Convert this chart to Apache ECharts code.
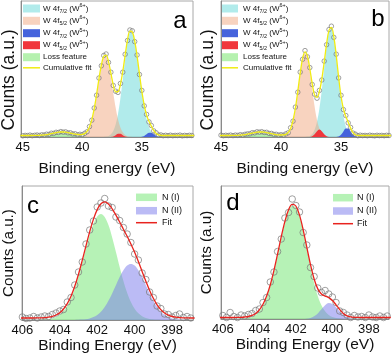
<!DOCTYPE html>
<html>
<head>
<meta charset="utf-8">
<script src="https://cdn.jsdelivr.net/npm/echarts@6/dist/echarts.min.js"></script>
<style>
  html, body { margin: 0; padding: 0; background: #fff; }
  #chart { width: 392px; height: 362px; }
</style>
</head>
<body>
<div id="chart"></div>
<script>
var FONT = 'Arial, "Liberation Sans", Helvetica, sans-serif';

// ---- W 4f panels (a, b): shared energy grid, eV ----
var energyW = [45.2, 45.0, 44.8, 44.6, 44.4, 44.2, 44.0, 43.8, 43.6, 43.4,
  43.2, 43.0, 42.8, 42.6, 42.4, 42.2, 42.0, 41.8, 41.6, 41.4,
  41.2, 41.0, 40.8, 40.6, 40.4, 40.2, 40.0, 39.8, 39.6, 39.4,
  39.2, 39.0, 38.8, 38.6, 38.4, 38.2, 38.0, 37.8, 37.6, 37.4,
  37.2, 37.0, 36.8, 36.6, 36.4, 36.2, 36.0, 35.8, 35.6, 35.4,
  35.2, 35.0, 34.8, 34.6, 34.4, 34.2, 34.0, 33.8, 33.6, 33.4,
  33.2, 33.0, 32.8, 32.6, 32.4, 32.2, 32.0, 31.8, 31.6, 31.4,
  31.2, 31.0, 30.8, 30.6];

// panel a: measured counts and cumulative fit
var aMeasured = [1.8, 1.2, 1.6, 1.4, 1.9, 1.3, 1.7, 2.0, 1.5, 2.2,
  2.0, 2.8, 2.6, 3.8, 3.6, 4.7, 4.5, 5.4, 4.8, 5.1,
  4.1, 4.2, 3.1, 3.2, 2.2, 2.7, 2.3, 3.7, 5.2, 10.4,
  16.8, 29.0, 41.8, 59.0, 71.2, 81.5, 83.0, 74.6, 64.8, 51.5,
  45.8, 44.6, 53.5, 64.8, 82.7, 96.5, 107.0, 106.2, 95.4, 82.0,
  62.5, 46.6, 31.1, 22.6, 15.1, 11.5, 6.1, 4.2, 1.9, 2.1,
  1.3, 1.7, 1.4, 1.8, 1.3, 1.6, 1.5, 1.9, 1.2, 1.6,
  1.4, 1.7, 1.5, 1.6];
var aFit = [1.5, 1.5, 1.5, 1.5, 1.5, 1.5, 1.6, 1.6, 1.7, 1.9,
  2.1, 2.4, 2.9, 3.4, 3.9, 4.4, 4.8, 5.0, 5.0, 4.8,
  4.4, 3.9, 3.4, 2.9, 2.5, 2.4, 2.6, 3.4, 5.6, 9.9,
  17.3, 28.3, 42.5, 58.2, 72.0, 80.6, 81.8, 75.3, 63.9, 52.2,
  45.1, 45.3, 52.7, 65.5, 81.9, 97.2, 105.9, 105.1, 96.1, 81.2,
  63.3, 45.9, 31.8, 21.9, 15.7, 10.9, 6.6, 3.7, 2.2, 1.7,
  1.5, 1.5, 1.5, 1.5, 1.5, 1.5, 1.5, 1.5, 1.5, 1.5,
  1.5, 1.5, 1.5, 1.5];
// panel a: fitted components [eV, counts]
var aW6f72 = [[38.4, 0], [38.2, 0.1], [38.0, 0.4], [37.8, 1.1], [37.6, 2.7], [37.4, 6.1], [37.2, 12.5],
  [37.0, 23.0], [36.8, 38.4], [36.6, 57.6], [36.4, 77.8], [36.2, 94.8], [36.0, 104.1], [35.8, 103.5],
  [35.6, 94.6], [35.4, 79.7], [35.2, 61.8], [35.0, 44.3], [34.8, 29.2], [34.6, 17.7], [34.4, 9.9],
  [34.2, 5.1], [34.0, 2.4], [33.8, 1.1], [33.6, 0.4], [33.4, 0.2], [33.2, 0]];
var aW6f52 = [[40.6, 0], [40.4, 0.1], [40.2, 0.3], [40.0, 0.7], [39.8, 1.7], [39.6, 4.0], [39.4, 8.3],
  [39.2, 15.8], [39.0, 26.8], [38.8, 41.0], [38.6, 56.7], [38.4, 70.5], [38.2, 79.0], [38.0, 79.9],
  [37.8, 72.7], [37.6, 59.7], [37.4, 44.1], [37.2, 29.4], [37.0, 17.6], [36.8, 9.6], [36.6, 4.7],
  [36.4, 2.1], [36.2, 0.8], [36.0, 0.3], [35.8, 0.1], [35.6, 0]];
var aW5f72 = [[35.2, 0], [35.0, 0.3], [34.8, 1.1], [34.6, 2.7], [34.4, 4.3], [34.2, 4.3], [34.0, 2.7],
  [33.8, 1.1], [33.6, 0.3], [33.4, 0]];
var aW5f52 = [[37.6, 0], [37.4, 0.5], [37.2, 1.7], [37.0, 3.2], [36.8, 3.2], [36.6, 1.7], [36.4, 0.5],
  [36.2, 0.1], [36.0, 0]];
var lossFeature = [[44.2, 0], [44.0, 0.1], [43.8, 0.1], [43.6, 0.2], [43.4, 0.4], [43.2, 0.6], [43.0, 0.9],
  [42.8, 1.4], [42.6, 1.9], [42.4, 2.4], [42.2, 2.9], [42.0, 3.3], [41.8, 3.5], [41.6, 3.5], [41.4, 3.3],
  [41.2, 2.9], [41.0, 2.4], [40.8, 1.9], [40.6, 1.4], [40.4, 0.9], [40.2, 0.6], [40.0, 0.4], [39.8, 0.2],
  [39.6, 0.1], [39.4, 0]];

// panel b
var bMeasured = [1.4, 1.8, 1.3, 1.7, 1.5, 1.9, 1.4, 1.9, 1.6, 2.3,
  1.9, 2.7, 3.1, 3.2, 4.3, 4.1, 5.2, 4.8, 5.3, 4.5,
  4.7, 3.6, 3.6, 2.6, 2.7, 1.9, 2.3, 1.8, 3.1, 4.2,
  9.3, 15.8, 29.9, 44.8, 64.9, 77.7, 86.4, 80.2, 69.4, 52.5,
  42.8, 38.8, 46.6, 57.0, 75.9, 92.3, 107.5, 110.8, 99.6, 82.8,
  59.1, 41.7, 27.4, 21.5, 14.1, 9.6, 3.9, 2.8, 1.3, 1.8,
  1.4, 1.6, 1.3, 1.8, 1.5, 1.2, 1.7, 1.4, 1.6, 1.3,
  1.7, 1.5, 1.4, 1.6];
var bFit = [1.5, 1.5, 1.5, 1.5, 1.5, 1.5, 1.6, 1.6, 1.7, 1.9,
  2.1, 2.4, 2.9, 3.4, 3.9, 4.4, 4.8, 5.0, 5.0, 4.8,
  4.4, 3.9, 3.4, 2.9, 2.4, 2.1, 2.0, 2.1, 2.7, 4.6,
  8.6, 16.5, 29.0, 45.7, 63.9, 78.6, 85.1, 81.0, 68.5, 53.3,
  41.9, 39.6, 45.8, 57.9, 74.8, 93.2, 106.6, 109.6, 100.4, 81.9,
  60.0, 40.8, 28.1, 20.6, 14.8, 8.9, 4.4, 2.3, 1.6, 1.5,
  1.5, 1.5, 1.5, 1.5, 1.5, 1.5, 1.5, 1.5, 1.5, 1.5,
  1.5, 1.5, 1.5, 1.5];
var bW6f72 = [[38.2, 0], [38.0, 0.1], [37.8, 0.4], [37.6, 1.1], [37.4, 3.1], [37.2, 7.2], [37.0, 15.2],
  [36.8, 28.4], [36.6, 47.0], [36.4, 69.2], [36.2, 90.5], [36.0, 104.9], [35.8, 108.1], [35.6, 98.9],
  [35.4, 80.3], [35.2, 57.9], [35.0, 37.1], [34.8, 21.1], [34.6, 10.6], [34.4, 4.8], [34.2, 1.9],
  [34.0, 0.7], [33.8, 0.2], [33.6, 0]];
var bW6f52 = [[40.2, 0], [40.0, 0.1], [39.8, 0.4], [39.6, 1.1], [39.4, 3.0], [39.2, 7.1], [39.0, 15.0],
  [38.8, 27.5], [38.6, 44.2], [38.4, 62.4], [38.2, 77.1], [38.0, 83.5], [37.8, 79.1], [37.6, 65.8],
  [37.4, 47.9], [37.2, 30.5], [37.0, 17.1], [36.8, 8.4], [36.6, 3.6], [36.4, 1.4], [36.2, 0.4],
  [36.0, 0.1], [35.8, 0]];
var bW5f72 = [[35.6, 0], [35.4, 0.1], [35.2, 0.6], [35.0, 2.2], [34.8, 5.5], [34.6, 8.5], [34.4, 8.5],
  [34.2, 5.5], [34.0, 2.2], [33.8, 0.6], [33.6, 0.1], [33.4, 0]];
var bW5f52 = [[37.8, 0], [37.6, 0.1], [37.4, 0.8], [37.2, 2.7], [37.0, 5.8], [36.8, 7.5], [36.6, 5.8],
  [36.4, 2.7], [36.2, 0.8], [36.0, 0.1], [35.8, 0]];

// ---- N 1s panels (c, d) ----
var energyN = [406.2, 406.0, 405.8, 405.6, 405.4, 405.2, 405.0, 404.8, 404.6, 404.4,
  404.2, 404.0, 403.8, 403.6, 403.4, 403.2, 403.0, 402.8, 402.6, 402.4,
  402.2, 402.0, 401.8, 401.6, 401.4, 401.2, 401.0, 400.8, 400.6, 400.4,
  400.2, 400.0, 399.8, 399.6, 399.4, 399.2, 399.0, 398.8, 398.6, 398.4,
  398.2, 398.0, 397.8, 397.6, 397.4, 397.2, 397.0, 396.8];

var cMeasured = [2.5, 3.0, 1.5, 2.0, 3.5, 2.0, 3.0, 4.0, 3.5, 5.5,
  7.0, 9.0, 10.5, 18.0, 22.5, 35.0, 48.0, 58.0, 76.0, 90.0,
  99.0, 113.0, 117.0, 121.5, 114.0, 112.5, 103.0, 99.5, 92.5, 86.0,
  77.5, 66.0, 60.0, 47.0, 40.5, 28.0, 22.5, 14.0, 11.5, 6.0,
  5.5, 3.0, 4.5, 6.0, 2.5, 3.5, 2.0, 2.5];
var cFit = [2.0, 2.0, 2.0, 2.0, 2.0, 2.1, 2.2, 2.4, 2.8, 3.6,
  5.0, 7.3, 11.0, 16.3, 23.8, 33.7, 45.8, 59.6, 74.2, 88.4,
  100.9, 110.4, 116.3, 118.1, 116.1, 111.2, 104.9, 98.0, 90.8, 83.7,
  76.0, 67.7, 58.4, 48.6, 38.8, 29.6, 21.7, 15.2, 10.4, 7.0,
  4.9, 3.5, 2.8, 2.4, 2.2, 2.1, 2.0, 2.0];
var cN1 = [[405.4, 0], [405.2, 0.1], [405.0, 0.2], [404.8, 0.4], [404.6, 0.8], [404.4, 1.6], [404.2, 3.0],
  [404.0, 5.3], [403.8, 9.0], [403.6, 14.3], [403.4, 21.8], [403.2, 31.6], [403.0, 43.6], [402.8, 57.2],
  [402.6, 71.4], [402.4, 84.9], [402.2, 96.0], [402.0, 103.4], [401.8, 106.0], [401.6, 103.1],
  [401.4, 94.9], [401.2, 82.6], [401.0, 68.1], [400.8, 53.1], [400.6, 39.1], [400.4, 27.3],
  [400.2, 18.0], [400.0, 11.3], [399.8, 6.7], [399.6, 3.7], [399.4, 2.0], [399.2, 1.0], [399.0, 0.5],
  [398.8, 0.2], [398.6, 0.1], [398.4, 0]];
var cN2 = [[403.4, 0], [403.2, 0.1], [403.0, 0.2], [402.8, 0.4], [402.6, 0.8], [402.4, 1.5], [402.2, 2.9],
  [402.0, 5.0], [401.8, 8.3], [401.6, 13.0], [401.4, 19.2], [401.2, 26.6], [401.0, 34.8], [400.8, 42.9],
  [400.6, 49.7], [400.4, 54.4], [400.2, 56.0], [400.0, 54.4], [399.8, 49.7], [399.6, 42.9], [399.4, 34.8],
  [399.2, 26.6], [399.0, 19.2], [398.8, 13.0], [398.6, 8.3], [398.4, 5.0], [398.2, 2.9], [398.0, 1.5],
  [397.8, 0.8], [397.6, 0.4], [397.4, 0.2], [397.2, 0.1], [397.0, 0]];

var dMeasured = [2.0, 3.5, 1.5, 6.5, 2.5, 1.5, 4.0, 3.0, 4.5, 5.5,
  8.5, 10.0, 16.5, 21.5, 37.0, 47.0, 67.5, 80.0, 101.0, 106.5,
  120.0, 113.5, 107.0, 86.5, 74.0, 51.5, 42.5, 31.0, 26.5, 28.5,
  25.0, 22.0, 16.5, 8.0, 6.5, 4.0, 1.5, 3.5, 2.0, 2.5,
  1.5, 4.0, 2.0, 1.5, 3.0, 1.5, 3.0, 2.0];
var dFit = [1.5, 1.5, 1.5, 1.5, 1.5, 1.6, 1.7, 2.0, 2.5, 3.6,
  5.6, 9.1, 14.7, 23.0, 34.3, 48.7, 65.2, 82.3, 97.7, 109.2,
  114.7, 113.0, 103.9, 89.2, 71.6, 54.4, 40.0, 30.1, 25.0, 22.9,
  21.4, 18.5, 14.2, 9.5, 5.6, 3.2, 2.1, 1.7, 1.6, 1.5,
  1.5, 1.5, 1.5, 1.5, 1.5, 1.5, 1.5, 1.5];
var dN1 = [[405.4, 0], [405.2, 0.1], [405.0, 0.2], [404.8, 0.5], [404.6, 1.0], [404.4, 2.1], [404.2, 4.1],
  [404.0, 7.6], [403.8, 13.2], [403.6, 21.5], [403.4, 32.8], [403.2, 47.2], [403.0, 63.7], [402.8, 80.8],
  [402.6, 96.2], [402.4, 107.7], [402.2, 113.2], [402.0, 111.5], [401.8, 102.4], [401.6, 87.6],
  [401.4, 69.8], [401.2, 51.8], [401.0, 35.8], [400.8, 23.0], [400.6, 13.8], [400.4, 7.7], [400.2, 4.0],
  [400.0, 1.9], [399.8, 0.9], [399.6, 0.4], [399.4, 0.1], [399.2, 0]];
var dN2 = [[401.8, 0], [401.6, 0.1], [401.4, 0.3], [401.2, 1.1], [401.0, 2.7], [400.8, 5.6], [400.6, 9.7],
  [400.4, 13.7], [400.2, 15.9], [400.0, 15.1], [399.8, 11.8], [399.6, 7.6], [399.4, 4.0], [399.2, 1.7],
  [399.0, 0.6], [398.8, 0.2], [398.6, 0.1], [398.4, 0]];

// tick labels
var ticksW = [35, 40, 45];
var ticksN = [398, 400, 402, 404, 406];

// legend labels
var legendW = ['W 4f_{7/2} (W^{6+})', 'W 4f_{5/2} (W^{6+})', 'W 4f_{7/2} (W^{5+})', 'W 4f_{5/2} (W^{5+})', 'Loss feature'];
var legendWFit = 'Cumulative fit';
var legendN = ['N (I)', 'N (II)'];
var legendNFit = 'Fit';

var COL = {
  cyan: 'rgba(100,215,215,0.5)',
  peach: 'rgba(242,168,128,0.5)',
  blue: '#4563dc',
  red: '#f0363c',
  loss: 'rgba(120,230,110,0.55)',
  yellow: '#f0ec12',
  green: 'rgba(110,230,110,0.5)',
  lav: 'rgba(120,120,235,0.5)',
  fitRed: '#e8231e'
};

function pairs(xs, ys) {
  return xs.map(function (x, i) { return [x, ys[i]]; });
}

function areaSeries(name, idx, data, color, z) {
  return {
    name: name, type: 'line', xAxisIndex: idx, yAxisIndex: idx, data: data,
    smooth: 0.35, symbol: 'none', silent: true, z: z || 2,
    lineStyle: { width: 0 }, areaStyle: { color: color, opacity: 1 }
  };
}
function fitSeries(name, idx, data, color) {
  return {
    name: name, type: 'line', xAxisIndex: idx, yAxisIndex: idx, data: data,
    smooth: 0.35, symbol: 'none', silent: true, z: 5,
    lineStyle: { color: color, width: 1.3 }
  };
}
function dotSeries(name, idx, data, size) {
  return {
    name: name, type: 'scatter', xAxisIndex: idx, yAxisIndex: idx, data: data,
    symbol: 'circle', symbolSize: size, silent: true, z: 4,
    itemStyle: { color: 'rgba(255,255,255,0)', borderColor: '#7a7a7a', borderWidth: 0.9 }
  };
}

function xAxisOf(idx, min, max, ticks, name, gap) {
  return {
    type: 'value', gridIndex: idx, inverse: true, min: min, max: max,
    axisLine: { show: true, lineStyle: { color: '#8a8a8a', width: 1 } },
    axisTick: { show: false }, splitLine: { show: false },
    axisLabel: { customValues: ticks, margin: 4, fontSize: 13, color: '#111', fontFamily: FONT },
    name: name, nameLocation: 'middle', nameGap: gap,
    nameTextStyle: { fontSize: 15.5, color: '#111', fontFamily: FONT }
  };
}
function yAxisOf(idx, max, name, gap, size, pad) {
  return {
    type: 'value', gridIndex: idx, min: 0, max: max,
    axisLine: { show: true, lineStyle: { color: '#8a8a8a', width: 1 } },
    axisTick: { show: false }, splitLine: { show: false }, axisLabel: { show: false },
    name: name, nameLocation: 'middle', nameRotate: 90, nameGap: gap,
    nameTextStyle: { fontSize: size, color: '#111', fontFamily: FONT, padding: pad || 0 }
  };
}

// 'W 4f_{7/2} (W^{6+})' -> rich text tokens
function richLabel(s) {
  var out = '', re = /([_^])\{([^}]*)\}/g, last = 0, m;
  while ((m = re.exec(s))) {
    if (m.index > last) out += '{t|' + s.slice(last, m.index) + '}';
    out += (m[1] === '_' ? '{s|' : '{p|') + m[2] + '}';
    last = re.lastIndex;
  }
  if (last < s.length) out += '{t|' + s.slice(last) + '}';
  return out;
}

function legendBlock(x0, textX, rows, colors, fitLabel, fitColor, fitY, sw, sh, fs) {
  var els = [];
  var rich = {
    t: { fontSize: fs, fontFamily: FONT, fill: '#111', lineHeight: fs + 3, verticalAlign: 'middle' },
    s: { fontSize: fs * 0.68, fontFamily: FONT, fill: '#111', lineHeight: fs * 0.7, verticalAlign: 'bottom' },
    p: { fontSize: fs * 0.68, fontFamily: FONT, fill: '#111', lineHeight: fs * 0.7, verticalAlign: 'top' }
  };
  rows.forEach(function (r, i) {
    els.push({ type: 'rect', shape: { x: x0, y: r.y - sh / 2, width: sw, height: sh }, style: { fill: colors[i] } });
    els.push({ type: 'text', x: textX, y: r.y, style: { text: richLabel(r.label), rich: rich, textVerticalAlign: 'middle', verticalAlign: 'middle' } });
  });
  els.push({ type: 'line', shape: { x1: x0, y1: fitY, x2: x0 + sw, y2: fitY }, style: { stroke: fitColor, lineWidth: 1.5 } });
  els.push({ type: 'text', x: textX, y: fitY, style: { text: richLabel(fitLabel), rich: rich, textVerticalAlign: 'middle', verticalAlign: 'middle' } });
  return els;
}

function letter(ch, x, y) {
  return { type: 'text', x: x, y: y, style: { text: ch, fontSize: 24, fontFamily: FONT, fill: '#000',
    textAlign: 'center', align: 'center', textVerticalAlign: 'middle', verticalAlign: 'middle' } };
}

var rowYW = [8.5, 20.8, 33.2, 45.2, 57.2];
var colorsW = [COL.cyan, COL.peach, COL.blue, COL.red, COL.loss];
var rowsW = legendW.map(function (l, i) { return { label: l, y: rowYW[i] }; });

var graphics = []
  .concat(legendBlock(23, 43, rowsW, colorsW, legendWFit, COL.yellow, 67.8, 17, 8, 8))
  .concat(legendBlock(221, 243, rowsW, colorsW, legendWFit, COL.yellow, 67.8, 17, 8, 8))
  .concat(legendBlock(136, 162, [{ label: legendN[0], y: 197.3 }, { label: legendN[1], y: 210.7 }],
    [COL.green, COL.lav], legendNFit, COL.fitRed, 222.7, 21, 7.5, 9))
  .concat(legendBlock(333, 357, [{ label: legendN[0], y: 197.7 }, { label: legendN[1], y: 211 }],
    [COL.green, COL.lav], legendNFit, COL.fitRed, 223.7, 20, 7.5, 9))
  .concat([letter('a', 180, 21), letter('b', 378, 19), letter('c', 33, 206), letter('d', 233, 203)]);

// fixed plot boxes; no automatic shrinking to fit labels
var gridStyle = { show: true, borderColor: '#a8a8a8', borderWidth: 1, backgroundColor: 'transparent',
  containLabel: false, outerBoundsMode: 'none' };

var option = {
  animation: false,
  backgroundColor: '#fff',
  grid: [
    Object.assign({ left: 21, top: 1, width: 172, height: 136 }, gridStyle),
    Object.assign({ left: 221, top: 1, width: 168, height: 136 }, gridStyle),
    Object.assign({ left: 22, top: 186, width: 171, height: 134 }, gridStyle),
    Object.assign({ left: 221, top: 186, width: 168, height: 133 }, gridStyle)
  ],
  xAxis: [
    xAxisOf(0, 30.7, 45.15, ticksW, 'Binding energy (eV)', 24),
    xAxisOf(1, 31, 45, ticksW, 'Binding energy (eV)', 24),
    xAxisOf(2, 396.88, 406.02, ticksN, 'Binding Energy (eV)', 16),
    xAxisOf(3, 396.9, 406.1, ticksN, 'Binding Energy (eV)', 16)
  ],
  yAxis: [
    yAxisOf(0, 136, 'Counts (a.u.)', 2.5, 17.5, [0, 22, 0, 0]),
    yAxisOf(1, 136, 'Counts (a.u.)', 3.5, 17.5, [0, 22, 0, 0]),
    yAxisOf(2, 134, 'Counts (a.u.)', 5.5, 15.2),
    yAxisOf(3, 133, 'Counts (a.u)', 6.5, 15.2)
  ],
  graphic: graphics,
  series: [
    // a
    areaSeries('a W6+ 4f7/2', 0, aW6f72, COL.cyan),
    areaSeries('a W6+ 4f5/2', 0, aW6f52, COL.peach),
    areaSeries('a W5+ 4f7/2', 0, aW5f72, COL.blue, 3),
    areaSeries('a W5+ 4f5/2', 0, aW5f52, COL.red, 3),
    areaSeries('a loss', 0, lossFeature, COL.loss),
    dotSeries('a data', 0, pairs(energyW, aMeasured), 4.5),
    fitSeries('a fit', 0, pairs(energyW, aFit), COL.yellow),
    // b
    areaSeries('b W6+ 4f7/2', 1, bW6f72, COL.cyan),
    areaSeries('b W6+ 4f5/2', 1, bW6f52, COL.peach),
    areaSeries('b W5+ 4f7/2', 1, bW5f72, COL.blue, 3),
    areaSeries('b W5+ 4f5/2', 1, bW5f52, COL.red, 3),
    areaSeries('b loss', 1, lossFeature, COL.loss),
    dotSeries('b data', 1, pairs(energyW, bMeasured), 4.5),
    fitSeries('b fit', 1, pairs(energyW, bFit), COL.yellow),
    // c
    areaSeries('c N (I)', 2, cN1, COL.green),
    areaSeries('c N (II)', 2, cN2, COL.lav),
    dotSeries('c data', 2, pairs(energyN, cMeasured), 6.5),
    fitSeries('c fit', 2, pairs(energyN, cFit), COL.fitRed),
    // d
    areaSeries('d N (I)', 3, dN1, COL.green),
    areaSeries('d N (II)', 3, dN2, COL.lav),
    dotSeries('d data', 3, pairs(energyN, dMeasured), 6.5),
    fitSeries('d fit', 3, pairs(energyN, dFit), COL.fitRed)
  ]
};

var chart = echarts.init(document.getElementById('chart'), null, { renderer: 'canvas' });
chart.setOption(option);
</script>
</body>
</html>
